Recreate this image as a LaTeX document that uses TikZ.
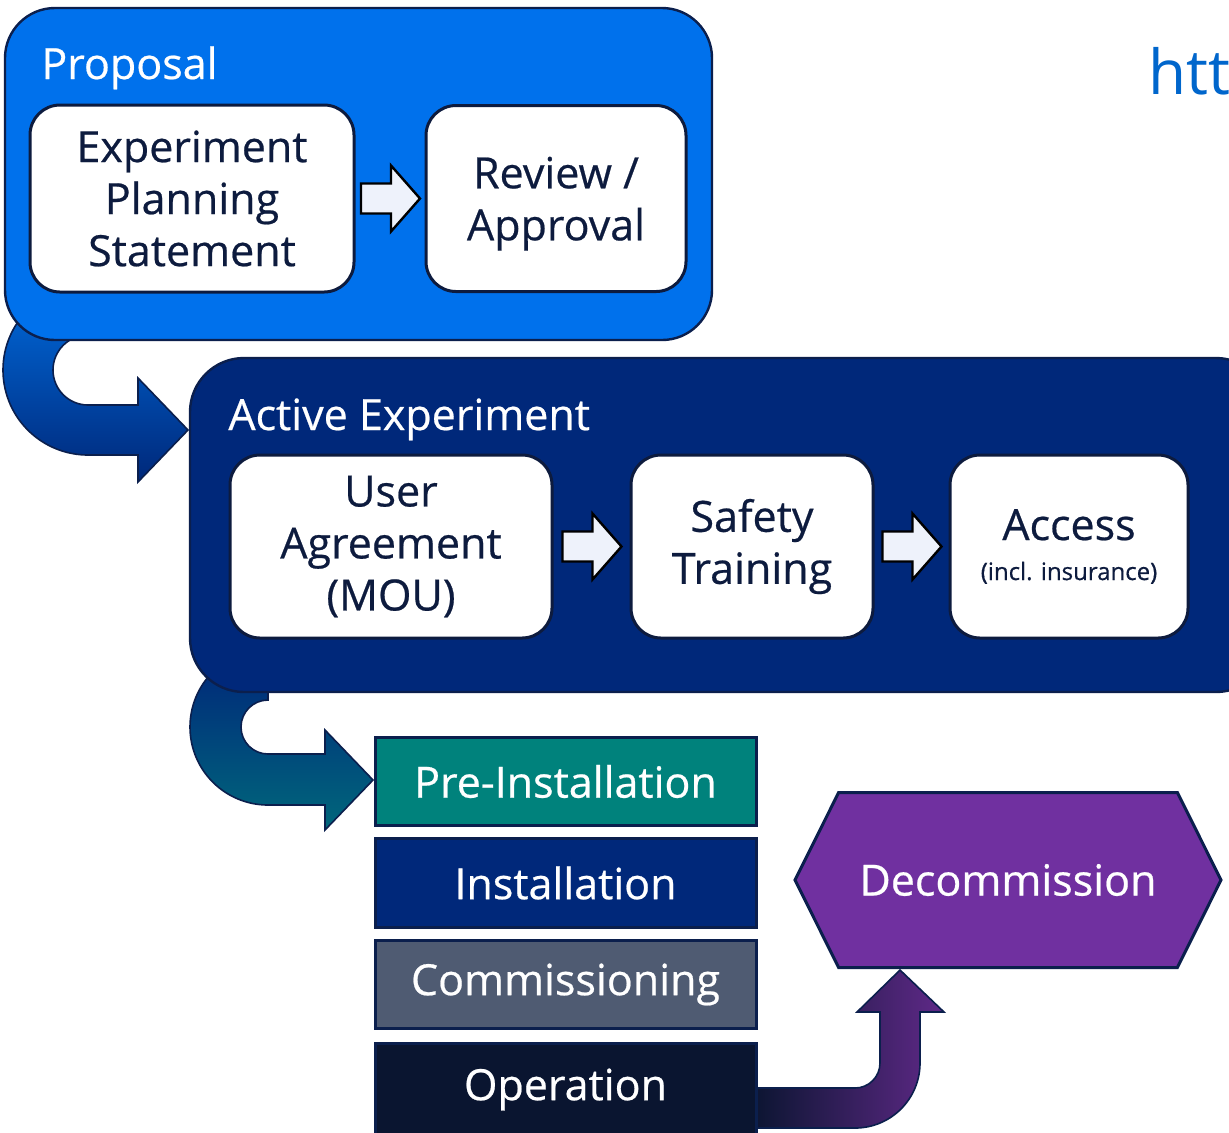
\documentclass[tikz,border=0pt]{standalone}
\usepackage{fontspec}
\setmainfont{Open Sans}
\usetikzlibrary{positioning,calc,shapes.symbols}

\definecolor{propBlue}{HTML}{0071EC}
\definecolor{activeNavy}{HTML}{00287A}
\definecolor{edgeNavy}{HTML}{0B1F4D}
\definecolor{inkNavy}{HTML}{0D1B3E}
\definecolor{preTeal}{HTML}{00827C}
\definecolor{commSlate}{HTML}{4F5B72}
\definecolor{operNavy}{HTML}{0A1530}
\definecolor{decoPurple}{HTML}{7030A0}
\definecolor{stepFill}{HTML}{EEF2FB}
\definecolor{linkBlue}{HTML}{0066CC}

\newcommand{\stepfont}{\fontsize{21.5}{26}\selectfont\addfontfeatures{FakeBold=0.5}}
% hollow block arrow halfway between two boxes
\newcommand{\stepto}[2]{%
  \draw[steparrow] ($(#1.east)!.5!(#2.west)$) ++(-29,-15) -- ++(30,0) -- ++(0,-18)
    -- ++(29,33) -- ++(-29,33) -- ++(0,-18) -- ++(-30,0) -- cycle;}

\begin{document}
\begin{tikzpicture}[x=0.5pt, y=-0.5pt, node distance=5pt,
  phase/.style={draw=edgeNavy, line width=1.2pt, rounded corners=25pt},
  phasetitle/.style={anchor=base west, inner sep=0pt, text=white, font=\stepfont},
  stepbox/.style={draw=inkNavy, line width=1.5pt, fill=white, rounded corners=15pt, align=center, text=inkNavy, font=\stepfont},
  steparrow/.style={draw=black, line width=1.2pt, fill=stepFill, line join=miter},
  stage/.style={draw=edgeNavy, line width=1.5pt, minimum width=190.5pt, minimum height=44pt, text=white, font=\stepfont},
  bentflow/.style={draw=edgeNavy, line width=0.8pt}]
  \useasboundingbox (0,0) rectangle (1229,1132);
  \clip (0,0) rectangle (1229,1132);
  \fill[white] (0,0) rectangle (1229,1132);

  % bent arrows that run under the phase boxes
  \path[bentflow, top color=propBlue!90!black, bottom color=activeNavy]
    (88,370) ++(220:85) arc[start angle=220, end angle=90, radius=85] -- (138,455)
    -- (138,482) -- (188,430) -- (138,378) -- (138,405) -- (88,405)
    arc[start angle=90, end angle=270, radius=35] -- (88,300) -- cycle;
  \path[bentflow, top color=activeNavy, bottom color=preTeal!70!activeNavy]
    (268,727) ++(225:78) arc[start angle=225, end angle=90, radius=78] -- (325,805)
    -- (325,830) -- (373,780) -- (325,730) -- (325,754) -- (268,754)
    arc[start angle=90, end angle=270, radius=27] -- (268,660) -- cycle;

  % proposal
  \node[phase, fill=propBlue, minimum width=353.5pt, minimum height=166pt] (proposal) at (358.5,174) {};
  \node[phasetitle] (proptitle) at (41,79) {Proposal};
  \node[stepbox, minimum width=162pt, minimum height=93.5pt] (eps) at (192,198.5) {Experiment\\Planning\\Statement};
  \node[stepbox, minimum width=130pt, minimum height=93pt, text depth=0pt, right=34.5pt of eps] (rev) {Review /\\Approval};
  \stepto{eps}{rev}

  % active experiment
  \node[phase, fill=activeNavy, rounded corners=27pt, minimum width=540pt, minimum height=167pt] (active) at (730,525) {};
  \node[phasetitle] (acttitle) at (228,430) {Active Experiment};
  \node[stepbox, minimum width=161pt, minimum height=91.5pt] (mou) at (391,546.5) {User\\Agreement\\(MOU)};
  \node[stepbox, minimum width=121pt, minimum height=91.5pt, right=38pt of mou] (safety) {Safety\\Training};
  \node[stepbox, minimum width=119pt, minimum height=91.5pt, right=37pt of safety] (access) {Access\\[-6pt]{\fontsize{12}{14}\selectfont (incl. insurance)}};
  \stepto{mou}{safety}
  \stepto{safety}{access}

  % operation feeds decommission
  \path[bentflow, left color=operNavy, right color=decoPurple!85!black]
    (750,1088) -- (855,1088) arc[start angle=90, end angle=0, radius=25] -- (880,1012)
    -- (857,1012) -- (900,970) -- (944,1012) -- (920,1012) -- (920,1063)
    arc[start angle=0, end angle=90, radius=65] -- (750,1128) -- cycle;

  % installation stages
  \node[stage, fill=preTeal] (pre) at (565.5,781.5) {Pre-Installation};
  \node[stage, fill=activeNavy, minimum height=44.5pt, below=of pre] (inst) {Installation};
  \node[stage, fill=commSlate, below=of inst] (comm) {Commissioning};
  \node[stage, fill=operNavy, minimum height=46pt, below=6pt of comm] (oper) {Operation};

  \node[signal, signal to=west and east, signal pointer angle=127, draw=edgeNavy, line width=1.5pt,
    fill=decoPurple, text=white, font=\stepfont, minimum width=213pt, minimum height=87.5pt] (decom) at (1008,880) {Decommission};

  \node[anchor=base west, text=linkBlue, font=\fontsize{31}{36}\selectfont, inner sep=0pt] (link) at (1148,94) {htt};
\end{tikzpicture}
\end{document}
